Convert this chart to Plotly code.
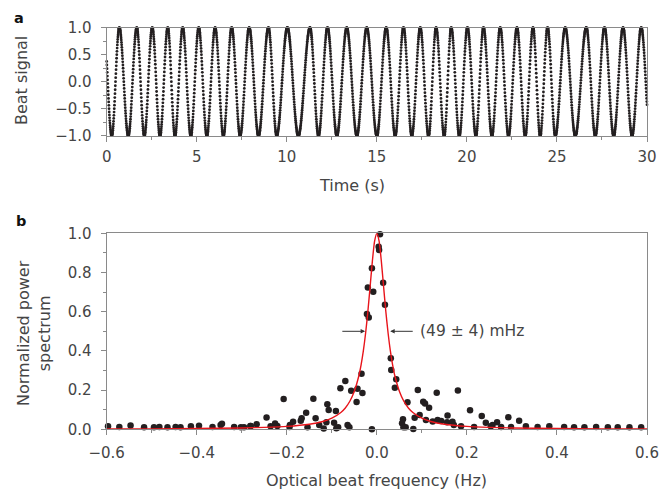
import numpy as np
import plotly.graph_objects as go

# ---------------- data ----------------
# Panel a: times (s) of the maxima and minima of the beat signal
peak_times_s = [-0.17, 0.70, 1.67, 2.53, 3.39, 4.22, 5.11, 6.02, 6.94, 7.91, 8.98,
                10.03, 11.29, 12.26, 13.33, 14.44, 15.52, 16.48, 17.41, 18.29, 19.13,
                20.03, 20.92, 21.85, 22.78, 23.67, 24.48, 25.46, 26.63, 27.64, 28.67, 29.68]
trough_times_s = [0.28, 1.20, 2.09, 2.96, 3.79, 4.67, 5.56, 6.48, 7.41, 8.43, 9.44,
                  10.64, 11.76, 12.78, 13.89, 15.00, 16.02, 16.94, 17.87, 18.74, 19.58,
                  20.50, 21.39, 22.31, 23.24, 24.07, 24.91, 26.02, 27.13, 28.15, 29.17, 30.18]
sample_step_s = 0.01

# Panel b: measured normalized power spectrum
freq_hz = [-0.597, -0.572, -0.547, -0.517, -0.495, -0.483, -0.465, -0.447, -0.436, -0.413,
           -0.395, -0.365, -0.347, -0.344, -0.317, -0.302, -0.295, -0.281, -0.280, -0.267,
           -0.245, -0.236, -0.226, -0.221, -0.207, -0.194, -0.193, -0.186, -0.169, -0.167,
           -0.157, -0.154, -0.141, -0.136, -0.128, -0.118, -0.112, -0.110, -0.107, -0.095,
           -0.091, -0.090, -0.086, -0.081, -0.070, -0.065, -0.061, -0.057, -0.045, -0.043,
           -0.034, -0.032, -0.022, -0.020, -0.018, -0.011, -0.011, -0.008, 0.004, 0.005,
           0.007, 0.014, 0.018, 0.031, 0.032, 0.040, 0.043, 0.056, 0.058, 0.059,
           0.064, 0.068, 0.081, 0.084, 0.091, 0.095, 0.103, 0.107, 0.109, 0.116,
           0.124, 0.133, 0.135, 0.143, 0.156, 0.157, 0.168, 0.171, 0.180, 0.187,
           0.207, 0.216, 0.233, 0.242, 0.253, 0.257, 0.267, 0.276, 0.292, 0.298,
           0.316, 0.331, 0.357, 0.383, 0.416, 0.438, 0.461, 0.487, 0.513, 0.535,
           0.561, 0.587]
power = [0.015, 0.012, 0.020, 0.010, 0.010, 0.012, 0.010, 0.012, 0.010, 0.015,
         0.018, 0.012, 0.022, 0.028, 0.012, 0.010, 0.010, 0.017, 0.017, 0.026,
         0.060, 0.015, 0.030, 0.017, 0.155, 0.012, 0.022, 0.039, 0.044, 0.056,
         0.085, 0.010, 0.156, 0.056, 0.022, 0.004, 0.036, 0.128, 0.099, 0.034,
         0.093, 0.005, 0.010, 0.209, 0.246, 0.022, 0.010, 0.197, 0.139, 0.207,
         0.284, 0.185, 0.588, 0.723, 0.571, 0.822, 0.000, 0.702, 0.932, 0.915,
         0.995, 0.748, 0.636, 0.362, 0.302, 0.212, 0.255, 0.031, 0.051, 0.010,
         0.010, 0.138, 0.002, 0.059, 0.200, 0.073, 0.141, 0.132, 0.047, 0.110,
         0.040, 0.186, 0.047, 0.042, 0.036, 0.071, 0.038, 0.022, 0.198, 0.015,
         0.097, 0.012, 0.068, 0.033, 0.015, 0.022, 0.036, 0.012, 0.062, 0.012,
         0.044, 0.015, 0.012, 0.015, 0.012, 0.010, 0.010, 0.012, 0.010, 0.010,
         0.010, 0.010]

# Panel b: fitted Lorentzian (red line)
fit_freq_hz = [-0.6, -0.5, -0.4, -0.3, -0.25, -0.2, -0.15, -0.12, -0.1, -0.08, -0.07, -0.06,
               -0.05, -0.04, -0.035, -0.03, -0.025, -0.02, -0.015, -0.01, -0.005, 0.0,
               0.005, 0.01, 0.015, 0.02, 0.025, 0.03, 0.035, 0.04, 0.05, 0.06, 0.07,
               0.08, 0.1, 0.12, 0.15, 0.2, 0.25, 0.3, 0.4, 0.5, 0.6]
fit_power = [0.002, 0.002, 0.004, 0.007, 0.010, 0.015, 0.026, 0.040, 0.057, 0.086, 0.109, 0.143,
             0.194, 0.273, 0.329, 0.400, 0.490, 0.600, 0.727, 0.857, 0.960, 1.000,
             0.960, 0.857, 0.727, 0.600, 0.490, 0.400, 0.329, 0.273, 0.194, 0.143, 0.109,
             0.086, 0.057, 0.040, 0.026, 0.015, 0.010, 0.007, 0.004, 0.002, 0.002]

a_xticks = [0, 5, 10, 15, 20, 25, 30]
a_yticks = [-1.0, -0.5, 0.0, 0.5, 1.0]
b_xticks = [-0.6, -0.4, -0.2, 0.0, 0.2, 0.4, 0.6]
b_yticks = [0.0, 0.2, 0.4, 0.6, 0.8, 1.0]

# ---------------- build beat signal from the read extrema ----------------
ext_t = np.array(sorted(peak_times_s + trough_times_s))
ext_phase = np.arange(len(ext_t)) * np.pi  # first extremum is a peak (phase 0)
t = np.arange(0, 30 + 1e-9, sample_step_s)
beat = np.cos(np.interp(t, ext_t, ext_phase))

# ---------------- figure ----------------
OFF = 8                      # page body margin of the browser
W, H = 671 - OFF, 493 - OFF
def px(x):
    return (x - OFF) / W
def py(y):
    return 1 - (y - OFF) / H

FONT = "DejaVu Sans"
TXT = "#454545"
AX = "#8a8a8a"
DOT = "#231f20"

fig = go.Figure()
fig.add_trace(go.Scatter(x=t, y=beat, mode="markers", xaxis="x", yaxis="y",
                         marker=dict(size=2.8, color=DOT), cliponaxis=False,
                         showlegend=False, hoverinfo="skip"))
fig.add_trace(go.Scatter(x=freq_hz, y=power, mode="markers", xaxis="x2", yaxis="y2",
                         marker=dict(size=6.5, color=DOT), cliponaxis=False,
                         showlegend=False))
fig.add_trace(go.Scatter(x=fit_freq_hz, y=fit_power, mode="lines", xaxis="x2", yaxis="y2",
                         line=dict(color="#e8141b", width=1.4, shape="spline", smoothing=0.6),
                         showlegend=False))

common = dict(showgrid=False, zeroline=False, showline=True, linecolor=AX, linewidth=1.2,
              mirror=True, ticks="outside", ticklen=5, tickwidth=1.2, tickcolor=AX,
              automargin=False,
              tickfont=dict(family=FONT, size=15, color=TXT))

xd = [px(106.7), px(647)]
fig.update_layout(
    width=W, height=H, margin=dict(l=0, r=0, t=0, b=0, pad=0),
    paper_bgcolor="white", plot_bgcolor="white", showlegend=False,
    xaxis=dict(domain=xd, anchor="y", range=[0, 30], tickvals=a_xticks, ticklabelstandoff=2,
               minor=dict(dtick=2.5, ticklen=3, tickcolor=AX, ticks="outside"), **common),
    yaxis=dict(domain=[py(135.7), py(27.7)], anchor="x", range=[-1, 1], tickvals=a_yticks,
               tickformat=".1f", ticklabelstandoff=6,
               minor=dict(dtick=0.25, ticklen=3, tickcolor=AX, ticks="outside"), **common),
    xaxis2=dict(domain=xd, anchor="y2", range=[-0.6, 0.6], tickvals=b_xticks,
                tickformat=".1f", ticklabelstandoff=5,
                minor=dict(dtick=0.1, ticklen=3, tickcolor=AX, ticks="outside"), **common),
    yaxis2=dict(domain=[py(429.3), py(233.3)], anchor="x2", range=[0, 1], tickvals=b_yticks,
                tickformat=".1f", ticklabelstandoff=6,
                minor=dict(dtick=0.1, ticklen=3, tickcolor=AX, ticks="outside"), **common),
)

ann = []
def label(text, x, y, size=16, angle=0, bold=False, xanchor="center"):
    ann.append(dict(text=f"<b>{text}</b>" if bold else text, x=px(x), y=py(y),
                    xref="paper", yref="paper", showarrow=False, textangle=angle,
                    xanchor=xanchor, yanchor="middle",
                    font=dict(family=FONT, size=size, color="#111111" if bold else TXT)))

label("a", 19, 17.5, size=14.5, bold=True)
label("b", 21, 221, size=14.5, bold=True)
label("Beat signal", 21, 81, angle=-90)
label("Time (s)", 352, 185)
label("Normalized power<br>spectrum", 34, 333, angle=-90)
label("Optical beat frequency (Hz)", 376, 480)

# FWHM arrows and label
for head, tail in [(-0.026, -0.08), (0.0296, 0.083)]:
    ann.append(dict(x=head, y=0.5, ax=tail, ay=0.5, xref="x2", yref="y2",
                    axref="x2", ayref="y2", showarrow=True, arrowhead=2,
                    arrowsize=0.9, arrowwidth=1, arrowcolor="#333333", text=""))
ann.append(dict(text="(49 ± 4) mHz", x=0.092, y=0.5, xref="x2", yref="y2",
                showarrow=False, xanchor="left", yanchor="middle",
                font=dict(family=FONT, size=15.5, color=TXT)))
fig.update_layout(annotations=ann)

fig.write_html("out.html")
